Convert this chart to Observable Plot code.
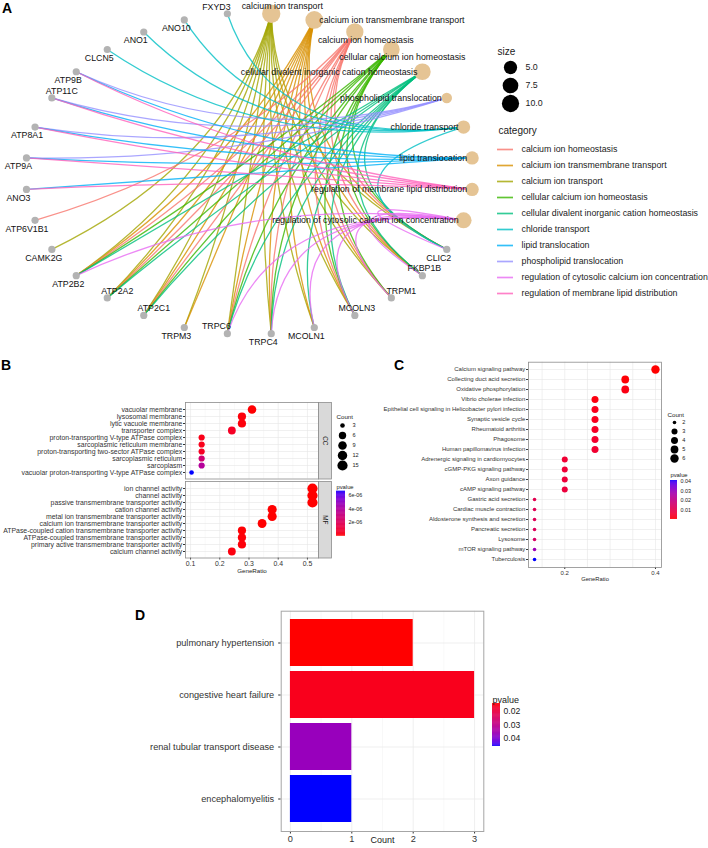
<!DOCTYPE html>
<html><head><meta charset="utf-8">
<script src="https://cdn.jsdelivr.net/npm/d3@7"></script>
<script src="https://cdn.jsdelivr.net/npm/@observablehq/plot@0.6"></script>
<style>
body{margin:0;background:#fff;}
#page{position:relative;width:708px;height:848px;overflow:hidden;background:#fff;font-family:"Liberation Sans",Arial,sans-serif;}
.tag{position:absolute;font:bold 14px "Liberation Sans",Arial,sans-serif;color:#000;line-height:1;}
</style></head><body><div id="page"></div><script>
// ================= DATA =================
// ---- Panel A : gene-concept network ----
const aCategories = ["calcium ion transport","calcium ion transmembrane transport","calcium ion homeostasis","cellular calcium ion homeostasis","cellular divalent inorganic cation homeostasis","phospholipid translocation","chloride transport","lipid translocation","regulation of membrane lipid distribution","regulation of cytosolic calcium ion concentration"];
const aLegendOrder = ["calcium ion homeostasis","calcium ion transmembrane transport","calcium ion transport","cellular calcium ion homeostasis","cellular divalent inorganic cation homeostasis","chloride transport","lipid translocation","phospholipid translocation","regulation of cytosolic calcium ion concentration","regulation of membrane lipid distribution"];
const aGenes = ["CLIC2","FKBP1B","TRPM1","MCOLN3","MCOLN1","TRPC4","TRPC6","TRPM3","ATP2C1","ATP2A2","ATP2B2","CAMK2G","ATP6V1B1","ANO3","ATP9A","ATP8A1","ATP11C","ATP9B","CLCN5","ANO1","ANO10","FXYD3"];
const setCaTransport = ["CAMK2G","ATP2B2","ATP2A2","ATP2C1","TRPM3","TRPC6","TRPC4","MCOLN1","MCOLN3","TRPM1","FKBP1B","CLIC2"];
const setCaTransmembrane = ["ATP2B2","ATP2A2","ATP2C1","TRPM3","TRPC6","TRPC4","MCOLN1","MCOLN3","TRPM1","FKBP1B","CLIC2"];
const setCaHomeostasis = ["ATP6V1B1","ATP2B2","ATP2A2","ATP2C1","TRPC6","TRPC4","MCOLN3","TRPM1","FKBP1B","CLIC2"];
const setCellCaHomeostasis = ["ATP2B2","ATP2A2","ATP2C1","TRPC6","TRPC4","MCOLN3","TRPM1","FKBP1B","CLIC2"];
const setCellDivalent = ["ATP2B2","ATP2A2","ATP2C1","TRPC6","TRPC4","MCOLN1","MCOLN3","FKBP1B","CLIC2"];
const setPhospholipid = ["ATP8A1","ATP9A","ATP9B","ATP11C"];
const setChloride = ["FXYD3","ANO10","ANO1","CLCN5","CLIC2"];
const setLipid = ["ATP8A1","ATP9A","ATP9B","ATP11C","ANO3"];
const setMembraneLipid = ["ATP8A1","ATP9A","ATP9B","ATP11C","ANO3"];
const setCytosolicCa = ["ATP2B2","TRPC6","TRPC4","MCOLN1","MCOLN3","TRPM1","FKBP1B","CLIC2"];
const aGeneSets = [setCaTransport,setCaTransmembrane,setCaHomeostasis,setCellCaHomeostasis,setCellDivalent,setPhospholipid,setChloride,setLipid,setMembraneLipid,setCytosolicCa];
const aSizeBreaks = [5, 7.5, 10];

// ---- Panel B : GO dot plot (CC / MF) ----
const bCCTerms = ["vacuolar membrane","lysosomal membrane","lytic vacuole membrane","transporter complex","proton-transporting V-type ATPase complex","sarcoplasmic reticulum membrane","proton-transporting two-sector ATPase complex","sarcoplasmic reticulum","sarcoplasm","vacuolar proton-transporting V-type ATPase complex"];
const bCCRatio = ["9/29","8/29","8/29","7/29","4/29","4/29","4/29","4/29","4/29","3/29"];
const bCCCount = [9,8,8,7,4,4,4,4,4,3];
const bCCP = [2.0e-8,1.2e-7,1.2e-7,5.5e-7,3.0e-7,3.5e-7,5.0e-7,2.6e-6,3.8e-6,6.6e-6];
const bMFTerms = ["ion channel activity","channel activity","passive transmembrane transporter activity","cation channel activity","metal ion transmembrane transporter activity","calcium ion transmembrane transporter activity","ATPase-coupled cation transmembrane transporter activity","ATPase-coupled transmembrane transporter activity","primary active transmembrane transporter activity","calcium channel activity"];
const bMFRatio = ["15/29","15/29","15/29","11/29","11/29","10/29","8/29","8/29","8/29","7/29"];
const bMFCount = [15,15,15,11,11,10,8,8,8,7];
const bMFP = [2e-10,3e-10,5e-10,3e-9,4e-9,1.5e-8,4e-8,8e-8,1e-7,1.6e-7];
const bXTicks = [0.1,0.2,0.3,0.4,0.5];
const bXMinor = [0.15,0.25,0.35,0.45];
const bCountBreaks = [3,6,9,12,15];
const bPTicks = [2e-6,4e-6,6e-6];
const bPTickLabels = ["2e-06","4e-06","6e-06"];

// ---- Panel C : KEGG dot plot ----
const cTerms = ["Calcium signaling pathway","Collecting duct acid secretion","Oxidative phosphorylation","Vibrio cholerae infection","Epithelial cell signaling in Helicobacter pylori infection","Synaptic vesicle cycle","Rheumatoid arthritis","Phagosome","Human papillomavirus infection","Adrenergic signaling in cardiomyocytes","cGMP-PKG signaling pathway","Axon guidance","cAMP signaling pathway","Gastric acid secretion","Cardiac muscle contraction","Aldosterone synthesis and secretion","Pancreatic secretion","Lysosome","mTOR signaling pathway","Tuberculosis"];
const cRatio = ["6/15","5/15","5/15","4/15","4/15","4/15","4/15","4/15","4/15","3/15","3/15","3/15","3/15","2/15","2/15","2/15","2/15","2/15","2/15","2/15"];
const cCount = [6,5,5,4,4,4,4,4,4,3,3,3,3,2,2,2,2,2,2,2];
const cP = [0.0004,0.0008,0.0018,0.0015,0.0028,0.0030,0.0040,0.0050,0.0055,0.0060,0.0065,0.0070,0.0075,0.0105,0.0115,0.0120,0.0125,0.0145,0.0285,0.0410];
const cXTicks = [0.2,0.4];
const cXGrid = [0.15,0.2,0.25,0.3,0.35,0.4];
const cCountBreaks = [2,3,4,5,6];
const cPTicks = [0.01,0.02,0.03,0.04];

// ---- Panel D : disease bar chart ----
const dTerms = ["pulmonary hypertension","congestive heart failure","renal tubular transport disease","encephalomyelitis"];
const dCount = [2,3,1,1];
const dP = [0.0142,0.0160,0.0370,0.0458];
const dXTicks = [0,1,2,3];
const dXMinor = [0.5,1.5,2.5];
const dPTicks = [0.02,0.03,0.04];

// ================= STYLE / LAYOUT =================
const W = 708, H = 848;
const FONT = '"Liberation Sans", Arial, sans-serif';
const hue10 = ["#F8766D","#D89000","#A3A500","#39B600","#00BF7D","#00BFC4","#00B0F6","#9590FF","#E76BF3","#FF62BC"];
const page = document.getElementById("page");
function frameBox(l, t, r, b) {
  return {width: W, height: H, marginLeft: l, marginTop: t, marginRight: W - r, marginBottom: H - b};
}
function sty(fs, color) {
  return {position: "absolute", left: "0px", top: "0px", background: "transparent", overflow: "visible", fontFamily: FONT, fontSize: fs + "px", color: color || "#1a1a1a"};
}
function add(p) { page.appendChild(p); }
function tag(letter, left, top) {
  const d = document.createElement("div"); d.className = "tag"; d.textContent = letter;
  d.style.left = left + "px"; d.style.top = top + "px"; page.appendChild(d);
}
const ratioOf = s => { const [a, b] = s.split("/"); return +a / +b; };
const pColor = domain => ({type: "linear", domain, range: ["red", "blue"], interpolate: "lab"});

// ================= PANEL A =================
const A = {l: 24.9, t: 12.5, r: 472.7, b: 333.9};
const aCX = (A.l + A.r) / 2, aCY = (A.t + A.b) / 2;
const aN = aCategories.length + aGenes.length;
const aNodes = [
  ...aCategories.map((name, i) => ({name, kind: "category", size: aGeneSets[i].length})),
  ...aGenes.map(name => ({name, kind: "gene"}))
].map((d, i) => {
  const t = Math.PI / 2 - (i + 0.5) * 2 * Math.PI / aN;
  return {...d, x: Math.cos(t), y: Math.sin(t)};
});
const aById = new Map(aNodes.map(d => [d.name, d]));
const aEdges = aCategories.flatMap((c, i) => aGeneSets[i].map(g => ({
  category: c, x1: aById.get(c).x, y1: aById.get(c).y, x2: aById.get(g).x, y2: aById.get(g).y
})));
// edges bend toward the centre of the circular layout
function centerCurve(cx, cy, k) {
  return function(context) {
    let p = [];
    return {
      areaStart() {}, areaEnd() {},
      lineStart() { p = []; },
      point(x, y) { p.push([+x, +y]); },
      lineEnd() {
        const [a, b] = p;
        const qx = cx + k * ((a[0] + b[0]) / 2 - cx), qy = cy + k * ((a[1] + b[1]) / 2 - cy);
        context.moveTo(a[0], a[1]);
        context.quadraticCurveTo(qx, qy, b[0], b[1]);
      }
    };
  };
}
// label placement groups (repel-like offsets)
const genesAboveRight = ["ATP11C","ATP2A2","ATP2C1","TRPM1"];
const genesAboveLeft = ["FXYD3","TRPC6"];
const genesAbove = ["MCOLN3","FKBP1B"];
const catsAboveRight = ["calcium ion transport"];
const catsRight = ["calcium ion transmembrane transport"];
const catsBelowRight = ["calcium ion homeostasis","cellular calcium ion homeostasis"];
const genesNodes = aNodes.filter(d => d.kind === "gene");
const catNodes = aNodes.filter(d => d.kind === "category");
const inList = list => d => list.includes(d.name);
const notIn = (...lists) => d => !lists.some(l => l.includes(d.name));
const lab = (data, dx, dy, anchor) => Plot.text(data, {x: "x", y: "y", text: "name", dx, dy, textAnchor: anchor || "middle", fontSize: 8.8, fill: "#111"});

add(Plot.plot({
  ...frameBox(A.l, A.t, A.r, A.b), style: sty(8.8),
  x: {domain: [-1, 1], axis: null}, y: {domain: [-1, 1], axis: null},
  color: {domain: aLegendOrder, range: hue10},
  r: {type: "sqrt", domain: [0, 8], range: [5.25, 9.15]},
  marks: [
    Plot.link(aEdges, {x1: "x1", y1: "y1", x2: "x2", y2: "y2", stroke: "category", strokeOpacity: 0.8, strokeWidth: 1.3, curve: centerCurve(aCX, aCY, 0.25)}),
    Plot.dot(genesNodes, {x: "x", y: "y", r: 3.6, fill: "#B3B3B3"}),
    Plot.dot(catNodes, {x: "x", y: "y", r: d => d.size - 4, fill: "#E5C494"}),
    lab(genesNodes.filter(notIn(genesAboveRight, genesAboveLeft, genesAbove)), -8, 8.5),
    lab(genesNodes.filter(inList(genesAboveRight)), 10, -7),
    lab(genesNodes.filter(inList(genesAboveLeft)), -11, -7),
    lab(genesNodes.filter(inList(genesAbove)), 2, -7),
    lab(catNodes.filter(inList(catsAboveRight)), 11, -8),
    lab(catNodes.filter(inList(catsRight)), 5, 0, "start"),
    lab(catNodes.filter(inList(catsBelowRight)), 11, 8),
    lab(catNodes.filter(notIn(catsAboveRight, catsRight, catsBelowRight)), -5, 0, "end")
  ]
}));

// size legend
add(Plot.plot({
  ...frameBox(500, 66.7, 520, 103), style: sty(8.8),
  x: {domain: [0, 1], axis: null},
  y: {type: "point", domain: aSizeBreaks, padding: 0, axis: null},
  r: {type: "sqrt", domain: [0, 8], range: [5.25, 9.15]},
  marks: [
    Plot.dot(aSizeBreaks, {y: d => d, r: d => d - 4, fill: "#000"}),
    Plot.text(aSizeBreaks, {y: d => d, text: d => d.toFixed(1), frameAnchor: "right", dx: 5, textAnchor: "start"}),
    Plot.text(["size"], {frameAnchor: "top-left", dx: -3, dy: -19.7, textAnchor: "start", fontSize: 10})
  ]
}));
// category legend
add(Plot.plot({
  ...frameBox(497, 144.3, 513, 297), style: sty(8.8),
  x: {domain: [0, 1], axis: null},
  y: {type: "point", domain: aLegendOrder, padding: 0, axis: null},
  color: {domain: aLegendOrder, range: hue10},
  marks: [
    Plot.ruleY(aLegendOrder, {y: d => d, stroke: d => d, strokeWidth: 1.7, strokeOpacity: 0.8}),
    Plot.text(aLegendOrder, {y: d => d, text: d => d, frameAnchor: "right", dx: 8, textAnchor: "start"}),
    Plot.text(["category"], {frameAnchor: "top-left", dx: 1, dy: -18.3, textAnchor: "start", fontSize: 10})
  ]
}));

// ================= PANEL B =================
const bAllP = [...bCCP, ...bMFP];
const bPDomain = [d3.min(bAllP), d3.max(bAllP)];
const bCountMin = d3.min(bCountBreaks), bCountMax = d3.max(bCountBreaks);
function dotPanel({terms, ratio, count, p, l, t, r, b, xDomain, xTicks, xMajor, xMinor, showX, cMin, cMax, rRange, pDomain, fs, xfs, tickFmt}) {
  const data = terms.map((term, i) => ({term, ratio: ratioOf(ratio[i]), count: count[i], p: p[i]}));
  return Plot.plot({
    ...frameBox(l, t, r, b), style: sty(fs, "#333"),
    x: showX ? {domain: xDomain, ticks: xTicks, tickFormat: tickFmt, tickSize: 2, tickPadding: 1.5, label: null, fontSize: xfs} : {domain: xDomain, axis: null},
    y: {type: "point", domain: terms, padding: 0.6, tickSize: 2, tickPadding: 1.2, label: null},
    r: {type: "sqrt", domain: [0, cMax - cMin], range: rRange},
    color: pColor(pDomain),
    marks: [
      Plot.ruleX(xMinor, {stroke: "#F2F2F2", strokeWidth: 0.5}),
      Plot.ruleX(xMajor, {stroke: "#E6E6E6", strokeWidth: 0.6}),
      Plot.ruleY(terms, {y: d => d, stroke: "#E6E6E6", strokeWidth: 0.6}),
      Plot.frame({stroke: "#8c8c8c", strokeWidth: 0.8}),
      Plot.dot(data, {x: "ratio", y: "term", r: d => d.count - cMin, fill: "p"})
    ]
  });
}
const fmt1 = d => d.toFixed(1);
add(dotPanel({terms: bCCTerms, ratio: bCCRatio, count: bCCCount, p: bCCP, l: 185, t: 402, r: 318, b: 478.5,
  xDomain: [0.0827, 0.5379], xTicks: bXTicks, xMajor: bXTicks, xMinor: bXMinor, showX: false, cMin: bCountMin, cMax: bCountMax,
  rRange: [2.3, 5.1], pDomain: bPDomain, fs: 6.9, tickFmt: fmt1}));
add(dotPanel({terms: bMFTerms, ratio: bMFRatio, count: bMFCount, p: bMFP, l: 185, t: 481, r: 318, b: 557.5,
  xDomain: [0.0827, 0.5379], xTicks: bXTicks, xMajor: bXTicks, xMinor: bXMinor, showX: true, cMin: bCountMin, cMax: bCountMax,
  rRange: [2.3, 5.1], pDomain: bPDomain, fs: 6.9, tickFmt: fmt1}));
// x title
add(Plot.plot({...frameBox(185, 402, 318, 557.5), style: sty(6.2, "#1a1a1a"),
  marks: [Plot.text(["GeneRatio"], {frameAnchor: "bottom", dy: 15})]}));
// facet strips
function strip(label, l, t, r, b) {
  return Plot.plot({...frameBox(l, t, r, b), style: sty(6.4, "#1a1a1a"),
    marks: [Plot.frame({fill: "#D9D9D9", stroke: "#8c8c8c", strokeWidth: 0.8}),
            Plot.text([label], {frameAnchor: "middle", rotate: 90})]});
}
add(strip("CC", 318, 402, 331, 478.5));
add(strip("MF", 318, 481, 331, 557.5));

function sizeLegend({breaks, cMin, cMax, rRange, l, r, t, b, fs, title, labelDx, titleDx, titleDy}) {
  return Plot.plot({
    ...frameBox(l, t, r, b), style: sty(fs, "#1a1a1a"),
    x: {domain: [0, 1], axis: null},
    y: {type: "point", domain: breaks, padding: 0, axis: null},
    r: {type: "sqrt", domain: [0, cMax - cMin], range: rRange},
    marks: [
      Plot.dot(breaks, {y: d => d, r: d => d - cMin, fill: "#000"}),
      Plot.text(breaks, {y: d => d, text: d => String(d), frameAnchor: "middle", dx: labelDx, textAnchor: "start"}),
      Plot.text([title], {frameAnchor: "top-left", dx: titleDx, dy: titleDy, textAnchor: "start", fontSize: fs + 0.6})
    ]
  });
}
function colorbar({domain, ticks, labels, l, t, r, b, fs, title, titleDy, flip}) {
  const [lo, hi] = domain, n = 80, step = (hi - lo) / n;
  const steps = d3.range(n).map(i => lo + step * i);
  return Plot.plot({
    ...frameBox(l, t, r, b), style: sty(fs, "#1a1a1a"),
    x: {domain: [0, 1], axis: null},
    y: {domain: flip ? [hi, lo] : [lo, hi], axis: null},
    color: pColor(domain),
    marks: [
      Plot.rect(steps, {x1: 0, x2: 1, y1: d => d, y2: d => Math.min(hi, d + step * 1.6), fill: d => d + step / 2}),
      Plot.text(ticks, {y: d => d, text: (d, i) => labels[i], frameAnchor: "right", dx: 3, textAnchor: "start"}),
      Plot.text([title], {frameAnchor: "top-left", dy: titleDy, textAnchor: "start", fontSize: fs + 0.4})
    ]
  });
}
add(sizeLegend({breaks: bCountBreaks, cMin: bCountMin, cMax: bCountMax, rRange: [2.3, 5.1], l: 339, r: 345, t: 424.7, b: 465,
  fs: 5.6, title: "Count", labelDx: 10, titleDx: -3, titleDy: -10.7}));
add(colorbar({domain: bPDomain, ticks: bPTicks, labels: bPTickLabels, l: 336, t: 490.7, r: 345, b: 535.7, fs: 5.4, title: "pvalue", titleDy: -6.5, flip: false}));

// ================= PANEL C =================
const cPDomain = [d3.min(cP), d3.max(cP)];
const cCountMin = d3.min(cCountBreaks), cCountMax = d3.max(cCountBreaks);
add(dotPanel({terms: cTerms, ratio: cRatio, count: cCount, p: cP, l: 528, t: 361.7, r: 661, b: 567,
  xDomain: [0.12, 0.4133], xTicks: cXTicks, xMajor: cXGrid, xMinor: [], showX: true, cMin: cCountMin, cMax: cCountMax,
  rRange: [1.8, 4.2], pDomain: cPDomain, fs: 6.0, tickFmt: fmt1}));
add(Plot.plot({...frameBox(528, 361.7, 661, 567), style: sty(5.8, "#1a1a1a"),
  marks: [Plot.text(["GeneRatio"], {frameAnchor: "bottom", dy: 13})]}));
add(sizeLegend({breaks: cCountBreaks, cMin: cCountMin, cMax: cCountMax, rRange: [1.8, 4.2], l: 671, r: 677, t: 420.7, b: 458.5,
  fs: 5.6, title: "Count", labelDx: 7.7, titleDx: -4, titleDy: -9}));
add(colorbar({domain: cPDomain, ticks: cPTicks, labels: cPTicks.map(d => d.toFixed(2)), l: 670, t: 480, r: 677, b: 519, fs: 5.4, title: "pvalue", titleDy: -7.5, flip: false}));

// ================= PANEL D =================
const dData = dTerms.map((term, i) => ({term, count: dCount[i], p: dP[i]}));
const dPDomain = [d3.min(dP), d3.max(dP)];
add(Plot.plot({
  ...frameBox(280.7, 610.7, 483.3, 831), style: sty(9.2, "#333"),
  x: {domain: [-0.15, 3.15], ticks: dXTicks, tickFormat: d => d.toFixed(0), tickSize: 2.5, tickPadding: 1, label: null},
  y: {type: "band", domain: dTerms, paddingInner: 0.1, paddingOuter: 0.14, tickSize: 2.5, tickPadding: 4.5, label: null},
  color: pColor(dPDomain),
  marks: [
    Plot.ruleX(dXMinor, {stroke: "#F3F3F3", strokeWidth: 0.6}),
    Plot.ruleX(dXTicks, {stroke: "#EBEBEB", strokeWidth: 0.8}),
    Plot.ruleY(dTerms, {y: d => d, stroke: "#EBEBEB", strokeWidth: 0.8}),
    Plot.barX(dData, {y: "term", x: "count", fill: "p"}),
    Plot.frame({stroke: "#a6a6a6", strokeWidth: 1}),
    Plot.text(["Count"], {frameAnchor: "bottom", dy: 11, fill: "#1a1a1a", fontSize: 9})
  ]
}));
add(colorbar({domain: dPDomain, ticks: dPTicks, labels: dPTicks.map(d => d.toFixed(2)), l: 492, t: 703, r: 500, b: 746, fs: 8.6, title: "pvalue", titleDy: -6.5, flip: true}));

// panel tags
tag("A", 2, 1);
tag("B", 1, 358);
tag("C", 394, 358);
tag("D", 135, 608);
</script></body></html>
